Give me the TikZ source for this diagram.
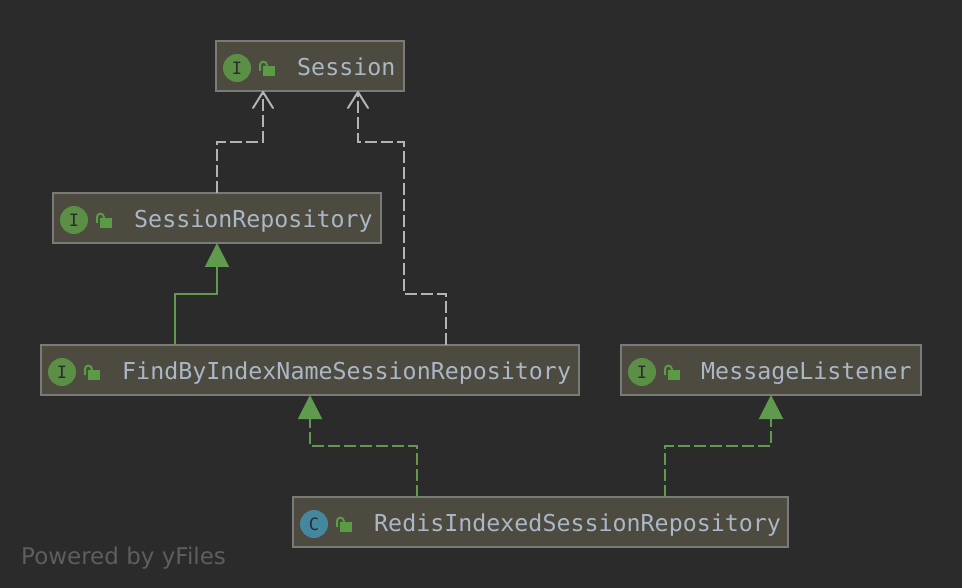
\documentclass[tikz,border=0pt]{standalone}
\usepackage{fontspec}
\setmonofont{DejaVu Sans Mono}
\setsansfont{DejaVu Sans}
\usetikzlibrary{arrows.meta}
\definecolor{bgdark}{HTML}{2B2B2B}
\definecolor{boxfill}{HTML}{4D4A40}
\definecolor{boxline}{HTML}{7A7A78}
\definecolor{labcol}{HTML}{A9B7C6}
\definecolor{arrgreen}{HTML}{5F9A4F}
\definecolor{arrgrey}{HTML}{B4B4B4}
\definecolor{icongreen}{HTML}{5A8F45}
\definecolor{lockgreen}{HTML}{5B9B46}
\definecolor{iconblue}{HTML}{44879F}
\definecolor{markcol}{HTML}{5E5E5E}
\tikzset{
 classbox/.style={draw=boxline,fill=boxfill,line width=2pt,inner sep=0pt,outer sep=0pt,minimum height=50pt},
 classlab/.style={anchor=base west,inner sep=0pt,text=labcol,font=\fontsize{23.3}{26}\selectfont\ttfamily},
 classicon/.style={circle,inner sep=0pt,minimum size=28pt,font=\fontsize{17}{20}\selectfont\ttfamily},
 implgrey/.style={draw=arrgrey,line width=2pt,dash pattern=on 12pt off 4pt,-{Straight Barb[length=16pt,width=20pt,line width=2pt,round]}},
 extgreen/.style={draw=arrgreen,line width=2pt,-{Triangle[length=24pt,width=24pt,fill=arrgreen]}},
 implgreen/.style={extgreen,dash pattern=on 12pt off 4pt},
}
\begin{document}
\begin{tikzpicture}[x=1pt,y=-1pt]
\path[use as bounding box,fill=bgdark] (0,0) rectangle (962,588);
\foreach \name/\cx/\cy/\boxw/\lab/\tx/\letter/\icol in {session/310/66/188/Session/297/I/icongreen,sessionrepo/217/218/328/SessionRepository/134/I/icongreen,findrepo/310/370/538/FindByIndexNameSessionRepository/122/I/icongreen,listener/771/370/300/MessageListener/701/I/icongreen,redisrepo/540.5/522/495/RedisIndexedSessionRepository/374/C/iconblue}{
 \pgfmathsetmacro{\ix}{\cx-\boxw/2+21}
 \node[classbox,minimum width=\boxw pt] (\name) at (\cx,\cy) {};
 \node[classicon,fill=\icol,text=bgdark] (\name-icon) at (\ix,\cy+2) {\letter};
 \node[classlab] (\name-lab) at (\tx,\cy+9.5) {\lab};
 \fill[lockgreen] ([shift={(26,-2)}]\name-icon.center) rectangle ++(12,10);
 \draw[lockgreen,line width=2pt] ([shift={(23,3)}]\name-icon.center) -- ++(0,-6) arc (180:0:3.4pt) -- ++(0,2);
}
\draw[implgrey] (sessionrepo.north) -- ++(0,-51) -| ([xshift=-47pt]session.south);
\draw[implgrey] ([xshift=136pt]findrepo.north) -- ++(0,-51) -- ++(-42,0) -- ++(0,-152) -| ([xshift=48pt]session.south);
\draw[extgreen] ([xshift=-135pt]findrepo.north) -- ++(0,-51) -| (sessionrepo.south);
\draw[implgreen] ([xshift=-123.5pt]redisrepo.north) -- ++(0,-51) -| (findrepo.south);
\draw[implgreen] ([xshift=124.5pt]redisrepo.north) -- ++(0,-51) -| (listener.south);
\node[anchor=base west,inner sep=0pt,text=markcol,font=\fontsize{23}{26}\selectfont\sffamily] (poweredby) at (21,564) {Powered by yFiles};
\end{tikzpicture}
\end{document}
